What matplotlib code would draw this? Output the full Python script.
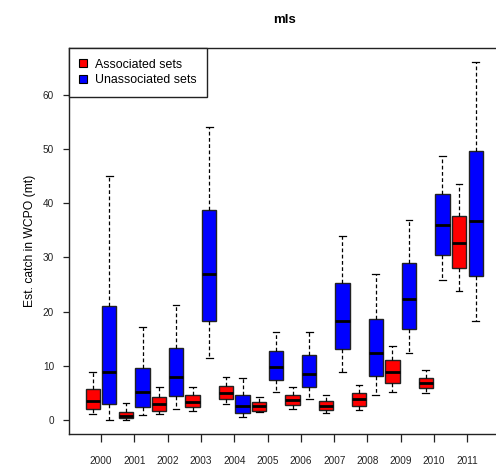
import numpy as np
import matplotlib
matplotlib.use("Agg")
import matplotlib.pyplot as plt
from matplotlib.patches import Patch

plt.rcParams['font.family'] = ['Liberation Sans', 'DejaVu Sans']

# box stats: low whisker, q1, median, q3, high whisker
years = np.arange(2000, 2012)

assoc_lo = [1.05, 0.0, 1.0, 1.66, 2.9, 1.4, 2.0, 1.17, 1.72, 5.17, 4.9, 23.8]
assoc_q1 = [2.0, 0.3, 1.7, 2.34, 3.87, 1.7, 2.77, 1.72, 2.5, 6.77, 5.85, 28.0]
assoc_med = [3.5, 0.7, 2.9, 3.26, 4.9, 2.5, 3.56, 2.58, 3.8, 8.8, 6.83, 32.6]
assoc_q3 = [5.66, 1.5, 4.2, 4.5, 6.27, 3.26, 4.6, 3.45, 4.86, 11.07, 7.8, 37.7]
assoc_hi = [8.8, 3.1, 5.96, 5.96, 7.93, 4.25, 5.96, 4.6, 6.46, 13.65, 9.17, 43.6]

unassoc_lo = [0.0, 0.8, 1.97, 11.5, 0.5, 5.17, 3.75, 8.8, 4.5, 12.4, 25.8, 18.3]
unassoc_q1 = [2.9, 2.4, 4.3, 18.3, 1.17, 7.4, 5.96, 13.0, 8.0, 16.8, 30.4, 26.5]
unassoc_med = [8.86, 5.17, 7.93, 26.9, 2.46, 9.8, 8.43, 18.3, 12.4, 22.3, 36.0, 36.7]
unassoc_q3 = [21.1, 9.65, 13.3, 38.7, 4.5, 12.7, 11.9, 25.2, 18.6, 28.9, 41.8, 49.7]
unassoc_hi = [45.1, 17.1, 21.3, 54.2, 7.7, 16.3, 16.2, 33.9, 26.9, 37.0, 48.8, 66.1]


def make_stats(lo, q1, med, q3, hi):
    return [dict(whislo=a, q1=b, med=c, q3=d, whishi=e, fliers=[])
            for a, b, c, d, e in zip(lo, q1, med, q3, hi)]


W, H = 496, 467
fig = plt.figure(figsize=(W / 100, H / 100), dpi=100)
ax = fig.add_axes([68.7 / W, 33 / H, 431 / W, 386 / H])

style = dict(
    patch_artist=True, widths=0.43, manage_ticks=False, showfliers=False,
    medianprops=dict(color='black', linewidth=2.0, solid_capstyle='butt'),
    whiskerprops=dict(color='black', linewidth=0.9, linestyle=(0, (3, 2))),
    capprops=dict(color='black', linewidth=0.9),
    capwidths=0.2,
)
b1 = ax.bxp(make_stats(assoc_lo, assoc_q1, assoc_med, assoc_q3, assoc_hi),
            positions=years - 0.25, **style)
b2 = ax.bxp(make_stats(unassoc_lo, unassoc_q1, unassoc_med, unassoc_q3, unassoc_hi),
            positions=years + 0.25, **style)
for b, col in ((b1, '#ff0000'), (b2, '#0000ff')):
    for box in b['boxes']:
        box.set_facecolor(col)
        box.set_edgecolor('#222222')
        box.set_linewidth(1.0)

ax.set_xlim(years[0] - 0.97, years[-1] + 0.97)
ax.set_ylim(-2.64, 68.74)
ax.set_xticks(years)
ax.set_xticklabels([str(y) for y in years])
ax.set_yticks(np.arange(0, 61, 10))
ax.tick_params(axis='x', length=6, width=0.9, pad=10, labelsize=7.2, colors='#222222')
ax.tick_params(axis='y', length=4.5, width=0.9, pad=6, labelsize=7.2, colors='#222222')
for s in ax.spines.values():
    s.set_linewidth(1.0)
    s.set_color('#222222')

ax.set_ylabel('Est. catch in WCPO (mt)', fontsize=8.7, labelpad=5)
fig.text(284 / W, 1 - 20 / H, 'mls', ha='center', va='center',
         fontsize=9.5, fontweight='bold')

handles = [Patch(facecolor='#ff0000', edgecolor='black', linewidth=0.8, label='Associated sets'),
           Patch(facecolor='#0000ff', edgecolor='black', linewidth=0.8, label='Unassociated sets')]
leg = ax.legend(handles=handles, loc='upper left', borderaxespad=0, fontsize=8.9,
                fancybox=False, framealpha=1, edgecolor='#222222',
                handlelength=0.6, handleheight=0.6, handletextpad=0.7,
                labelspacing=0.3, borderpad=0.85)
leg.get_frame().set_linewidth(1.0)

fig.savefig('out.png', dpi=100)
